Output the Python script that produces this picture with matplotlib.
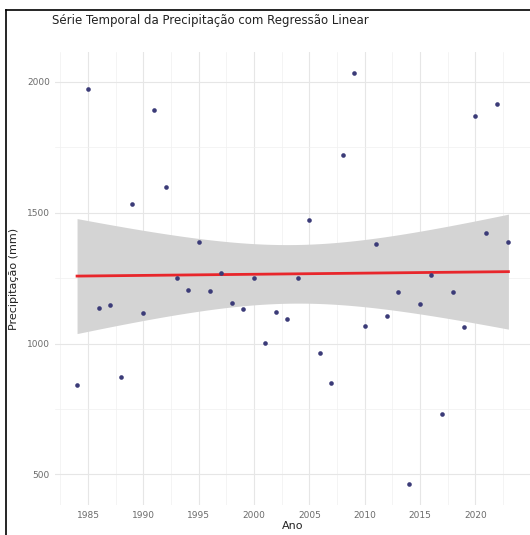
import matplotlib
matplotlib.use("Agg")
import matplotlib.pyplot as plt
from matplotlib.lines import Line2D
import numpy as np

# ── Data ─────────────────────────────────────────────────────────────────────
anos = list(range(1984, 2024))
precipitacao = [
    841, 1973, 1135, 1147, 871, 1533, 1116, 1893, 1598, 1250,
    1204, 1388, 1200, 1269, 1154, 1131, 1250, 1001, 1120, 1093,
    1250, 1472, 963, 848, 1721, 2034, 1066, 1380, 1105, 1197,
    462, 1151, 1262, 730, 1197, 1063, 1870, 1422, 1916, 1388,
]
x_ticks = [1985, 1990, 1995, 2000, 2005, 2010, 2015, 2020]
y_ticks = [500, 1000, 1500, 2000]

plt.rcParams["font.family"] = "DejaVu Sans"

# ── Linear fit with 95% confidence band (like geom_smooth(method="lm")) ─────
x = np.array(anos, dtype=float)
y = np.array(precipitacao, dtype=float)
n = len(x)
b1, b0 = np.polyfit(x, y, 1)
resid = y - (b0 + b1 * x)
s = np.sqrt(np.sum(resid ** 2) / (n - 2))
sxx = np.sum((x - x.mean()) ** 2)
xf = np.linspace(x.min(), x.max(), 80)
yf = b0 + b1 * xf
t = 2.024  # t(0.975, df=38)
half = t * s * np.sqrt(1 / n + (xf - x.mean()) ** 2 / sxx)

# ── Figure ───────────────────────────────────────────────────────────────────
fig = plt.figure(figsize=(5.3, 5.35), dpi=100)
ax = fig.add_axes([0.1047, 0.0561, 0.8953, 0.8458])

xr = x.max() - x.min()
yr = y.max() - y.min()
ax.set_xlim(x.min() - 0.05 * xr, x.max() + 0.05 * xr)
ax.set_ylim(y.min() - 0.05 * yr, y.max() + 0.05 * yr)

ax.set_xticks(x_ticks)
ax.set_yticks(y_ticks)
ax.set_xticks([v + 2.5 for v in [1980] + x_ticks], minor=True)
ax.set_yticks([750, 1250, 1750], minor=True)
ax.grid(which="major", color="#e6e6e6", linewidth=0.8)
ax.grid(which="minor", color="#f0f0f0", linewidth=0.5)
ax.set_axisbelow(True)
for sp in ax.spines.values():
    sp.set_visible(False)
ax.tick_params(which="both", length=0, labelsize=6.5, labelcolor="#6b6b6b", pad=4)

ax.fill_between(xf, yf - half, yf + half, color="#d4d4d4", linewidth=0, zorder=2)
ax.plot(xf, yf, color="#e8262b", linewidth=2.0, zorder=3)
ax.scatter(x, y, s=11, color="#3b3b78", zorder=4, linewidths=0)

ax.set_xlabel("Ano", fontsize=8, color="#222222", labelpad=1)
ax.set_ylabel("Precipitação (mm)", fontsize=8, color="#222222", labelpad=6)

fig.text(0.098, 0.962, "Série Temporal da Precipitação com Regressão Linear",
         fontsize=8.5, color="#222222", ha="left", va="center")

# screenshot frame (left and top edges)
fig.add_artist(Line2D([6 / 530, 6 / 530], [0, 1 - 10 / 535], color="black",
                      linewidth=1.2, transform=fig.transFigure))
fig.add_artist(Line2D([6 / 530, 1], [1 - 10 / 535, 1 - 10 / 535], color="black",
                      linewidth=1.2, transform=fig.transFigure))

fig.savefig("out.png", dpi=100)
